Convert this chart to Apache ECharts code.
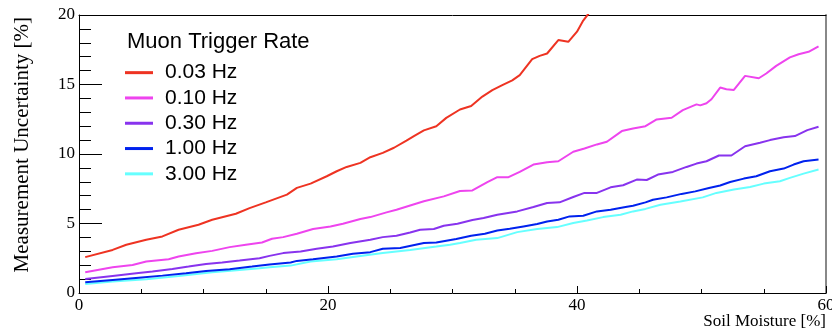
<!DOCTYPE html>
<html>
<head>
<meta charset="utf-8">
<script src="https://cdn.jsdelivr.net/npm/echarts@6/dist/echarts.min.js"></script>
<style>
html,body{margin:0;padding:0;background:#fff;}
#chart{width:832px;height:334px;}
</style>
</head>
<body>
<div id="chart"></div>
<script>
// ---- data ----
var seriesNames = ['0.03 Hz', '0.10 Hz', '0.30 Hz', '1.00 Hz', '3.00 Hz'];
var xTitle = 'Soil Moisture [%]';
var yTitle = 'Measurement Uncertainty [%]';
var legendTitle = 'Muon Trigger Rate';

var rate003 = [[0.5,2.58],[2.7,3.1],[3.8,3.47],[5.4,3.83],[6.7,4.07],[8.0,4.55],[9.6,4.91],[10.7,5.27],[12.6,5.7],[13.7,6.11],[15.0,6.52],[16.7,7.08],[17.5,7.56],[18.6,7.87],[19.9,8.4],[20.7,8.76],[21.5,9.07],[22.6,9.36],[23.4,9.77],[24.4,10.08],[25.3,10.45],[26.3,10.97],[26.9,11.29],[27.7,11.7],[28.7,12.0],[29.5,12.6],[30.6,13.2],[31.5,13.45],[32.4,14.13],[33.2,14.6],[34.0,14.95],[34.8,15.3],[35.4,15.67],[36.4,16.82],[37.0,17.06],[37.6,17.23],[38.5,18.2],[39.3,18.07],[40.0,18.8],[40.5,19.6],[40.9,20.07],[41.5,20.9]];
var rate010 = [[0.5,1.49],[2.7,1.85],[4.3,2.02],[5.4,2.26],[7.2,2.43],[8.0,2.62],[9.4,2.86],[10.7,3.03],[12.1,3.3],[13.4,3.47],[14.7,3.63],[15.5,3.9],[16.4,4.02],[17.5,4.26],[18.8,4.6],[20.2,4.79],[21.2,4.98],[22.6,5.32],[23.4,5.46],[24.7,5.8],[25.5,5.99],[26.6,6.3],[27.7,6.6],[29.3,6.95],[30.6,7.34],[31.6,7.38],[32.8,7.97],[33.6,8.33],[34.5,8.33],[35.4,8.71],[36.5,9.24],[37.6,9.41],[38.5,9.48],[39.7,10.16],[40.6,10.4],[41.6,10.69],[42.4,10.88],[43.6,11.65],[44.5,11.84],[45.5,12.0],[46.4,12.49],[47.6,12.61],[48.5,13.16],[49.6,13.57],[49.9,13.5],[50.4,13.65],[50.8,13.94],[51.5,14.78],[52.0,14.66],[52.6,14.61],[53.5,15.62],[54.6,15.45],[55.2,15.79],[56.0,16.34],[57.1,16.95],[57.8,17.18],[58.6,17.35],[59.4,17.74]];
var rate030 = [[0.5,1.01],[2.7,1.23],[4.6,1.42],[5.9,1.54],[7.5,1.73],[8.8,1.9],[10.2,2.09],[11.5,2.19],[12.9,2.33],[14.5,2.5],[15.3,2.67],[16.4,2.87],[17.8,2.98],[19.1,3.18],[20.4,3.34],[21.8,3.59],[23.4,3.83],[24.4,4.02],[25.5,4.12],[26.6,4.35],[27.4,4.55],[28.5,4.6],[29.3,4.84],[30.4,4.98],[31.6,5.25],[32.5,5.39],[33.6,5.63],[35.2,5.87],[36.5,6.19],[37.6,6.48],[38.6,6.52],[39.7,6.91],[40.6,7.2],[41.6,7.2],[42.7,7.6],[43.7,7.75],[44.8,8.16],[45.6,8.13],[46.5,8.52],[47.7,8.71],[48.8,9.07],[49.6,9.31],[50.4,9.48],[51.4,9.89],[52.4,9.89],[53.5,10.56],[54.7,10.81],[55.5,11.0],[56.6,11.21],[57.5,11.29],[58.5,11.72],[59.4,11.96]];
var rate100 = [[0.5,0.77],[2.7,0.94],[4.8,1.1],[6.7,1.25],[8.6,1.42],[10.2,1.59],[12.1,1.71],[13.9,1.9],[15.3,2.05],[17.0,2.19],[17.5,2.31],[18.8,2.43],[20.7,2.62],[22.0,2.82],[23.4,2.94],[24.4,3.18],[25.8,3.23],[27.7,3.59],[28.7,3.63],[30.3,3.88],[31.5,4.12],[32.6,4.26],[33.6,4.5],[34.6,4.62],[35.7,4.79],[36.8,4.96],[37.6,5.15],[38.5,5.27],[39.4,5.51],[40.5,5.56],[41.6,5.87],[42.7,5.99],[43.9,6.19],[44.5,6.28],[45.5,6.52],[46.1,6.71],[47.2,6.88],[48.4,7.13],[49.5,7.31],[50.6,7.56],[51.5,7.73],[52.3,7.99],[53.4,8.23],[54.4,8.4],[55.5,8.76],[56.6,8.95],[57.4,9.24],[58.2,9.48],[59.4,9.6]];
var rate300 = [[0.5,0.65],[2.7,0.82],[5.4,0.99],[8.0,1.23],[10.7,1.49],[12.9,1.66],[14.5,1.78],[15.3,1.85],[17.0,1.97],[18.6,2.26],[20.7,2.43],[22.6,2.67],[24.4,2.87],[26.6,3.1],[28.7,3.34],[29.8,3.47],[30.6,3.59],[31.9,3.83],[33.6,3.95],[35.2,4.38],[36.8,4.6],[38.4,4.74],[39.7,5.03],[40.8,5.22],[42.1,5.46],[43.5,5.63],[44.5,5.87],[45.5,6.05],[46.7,6.35],[48.3,6.59],[50.1,6.88],[51.2,7.2],[52.6,7.44],[53.9,7.63],[55.0,7.87],[56.3,8.04],[57.1,8.28],[58.2,8.59],[59.4,8.88]];
var seriesData = [rate003, rate010, rate030, rate100, rate300];
var xTicks = [0, 20, 40, 60];
var yTicks = [0, 5, 10, 15, 20];

// ---- styles ----
var colors = ['#ee3322', '#ee44ee', '#8833ee', '#0022ee', '#66ffff'];
var serif = 'Liberation Serif';
var sans = 'Liberation Sans';

var chart = echarts.init(document.getElementById('chart'), null, {renderer: 'canvas'});
var series = seriesNames.map(function (n, i) {
  return {
    name: n, type: 'line', data: seriesData[i], symbol: 'none', showSymbol: false,
    xAxisIndex: 0, yAxisIndex: 0, clip: true,
    lineStyle: {color: colors[i], width: 2}, itemStyle: {color: colors[i]},
    z: 10 - i
  };
});
chart.setOption({
  animation: false,
  backgroundColor: '#fff',
  grid: {left: 79, right: 6, top: 15, bottom: 41, containLabel: false, outerBoundsMode: 'none'},
  xAxis: [{
    type: 'value', min: xTicks[0], max: xTicks[xTicks.length - 1], interval: 20,
    axisLine: {show: true, lineStyle: {color: '#000', width: 1}},
    axisTick: {show: true, inside: true, length: 7, lineStyle: {color: '#000'}},
    minorTick: {show: true, splitNumber: 4, length: 4, lineStyle: {color: '#000'}},
    splitLine: {show: false},
    axisLabel: {color: '#000', fontFamily: serif, fontSize: 17, margin: 4, showMaxLabel: true, showMinLabel: true, hideOverlap: false}
  }, {
    type: 'value', position: 'top', min: 0, max: 60,
    axisLine: {show: true, onZero: false, lineStyle: {color: '#000', width: 1}},
    axisTick: {show: false}, axisLabel: {show: false}, splitLine: {show: false}
  }],
  yAxis: [{
    type: 'value', min: yTicks[0], max: yTicks[yTicks.length - 1], interval: 5,
    axisLine: {show: true, lineStyle: {color: '#000', width: 1}},
    axisTick: {show: true, inside: true, length: 23, lineStyle: {color: '#000'}},
    minorTick: {show: true, splitNumber: 5, length: 12, lineStyle: {color: '#000'}},
    splitLine: {show: false},
    axisLabel: {color: '#000', fontFamily: serif, fontSize: 17, margin: 4}
  }, {
    type: 'value', position: 'right', min: 0, max: 20,
    axisLine: {show: true, onZero: false, lineStyle: {color: '#888', width: 2}},
    axisTick: {show: false}, axisLabel: {show: false}, splitLine: {show: false}
  }],
  legend: {
    data: seriesNames, orient: 'vertical', left: 125, top: 60, padding: 0,
    itemWidth: 28, itemHeight: 3, itemGap: 0, icon: 'rect',
    textStyle: {fontFamily: sans, fontSize: 21, color: '#000', lineHeight: 25.3, padding: [0, 0, 0, 7]},
    selectedMode: false
  },
  graphic: [
    {type: 'text', left: 127, top: 31, style: {text: legendTitle, fontFamily: sans, fontSize: 22, fill: '#000'}},
    {type: 'text', x: 826, y: 322, style: {text: xTitle, fontFamily: serif, fontSize: 17, fill: '#000', align: 'right', verticalAlign: 'middle'}},
    {type: 'text', x: 22, y: 17, rotation: Math.PI / 2, style: {text: yTitle, fontFamily: serif, fontSize: 21, fill: '#000', align: 'right', verticalAlign: 'middle'}}
  ],
  series: series
});
</script>
</body>
</html>
